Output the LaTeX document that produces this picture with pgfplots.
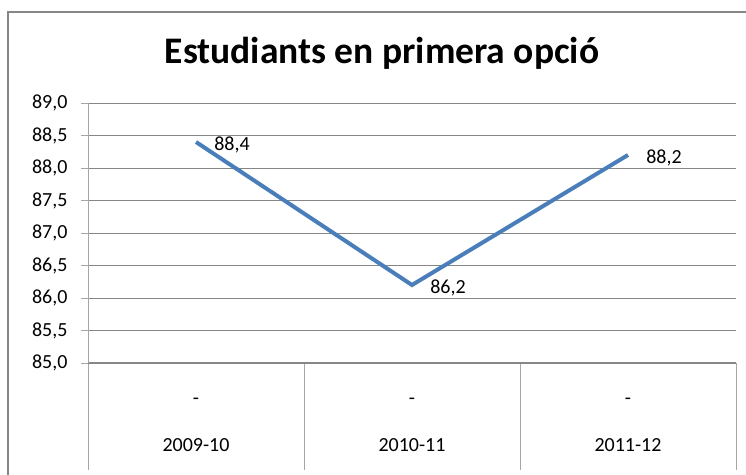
\documentclass[border=0pt]{standalone}
\usepackage{fontspec}
\setmainfont{Carlito}
\usepackage{pgfplots}
\pgfplotsset{compat=1.18}
\definecolor{serie}{HTML}{4A7EBB}
\definecolor{gridc}{HTML}{868686}
\definecolor{sepc}{HTML}{A6A6A6}
\begin{document}
\begin{tikzpicture}[x=1pt,y=1pt]
\useasboundingbox (0,0) rectangle (746,474);
\draw[gridc, line width=1.5pt] (8,-5) -- (8,462) -- (760,462);
\node[font=\fontsize{37.5}{44}\selectfont\bfseries, anchor=base] at (382,410) {Estudiants en primera opció};
\begin{axis}[
  at={(88pt,111pt)}, anchor=south west, scale only axis,
  width=648pt, height=260pt,
  xmin=-0.5, xmax=2.5, ymin=85, ymax=89,
  axis x line*=bottom, axis y line*=left,
  x axis line style={gridc, line width=1.6pt},
  y axis line style={sepc, line width=1pt},
  ytick={85,85.5,...,89},
  ytick pos=left,
  tick align=outside,
  major tick length=7pt,
  ytick style={sepc, line width=1pt},
  ymajorgrids,
  major grid style={gridc, line width=1pt},
  xtick={-0.5,0.5,1.5,2.5},
  xticklabels={},
  xtick style={sepc, line width=1pt, /pgfplots/major tick length=107pt},
  extra x ticks={0,1,2},
  extra x tick labels={2009-10,2010-11,2011-12},
  extra x tick style={major tick length=0pt, tick style={draw=none}, grid=none},
  ticklabel style={font=\fontsize{20}{24}\selectfont},
  xticklabel style={anchor=base, yshift=-88pt},
  yticklabel style={anchor=east, xshift=-10pt},
  /pgf/number format/.cd, fixed, fixed zerofill, precision=1, use comma, assume math mode=true,
  /pgfplots/.cd,
  clip=false,
  every node near coord/.append style={font=\fontsize{20}{24}\selectfont, anchor=west, text=black},
]
\addplot[serie, line width=4pt, mark=none, nodes near coords, point meta=y,
  every node near coord/.append style={xshift=13pt, yshift=-3pt}] coordinates {(0,88.4) (1,86.2) (2,88.2)};
\node[font=\fontsize{20}{24}\selectfont] at (axis cs:0,85) [yshift=-38pt] {-};
\node[font=\fontsize{20}{24}\selectfont] at (axis cs:1,85) [yshift=-38pt] {-};
\node[font=\fontsize{20}{24}\selectfont] at (axis cs:2,85) [yshift=-38pt] {-};
\end{axis}
\end{tikzpicture}
\end{document}
